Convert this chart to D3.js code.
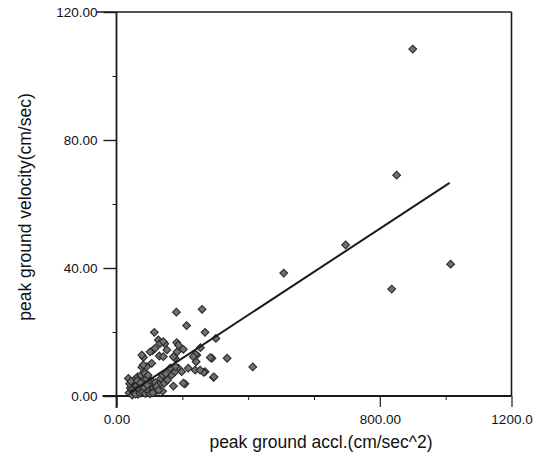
<!DOCTYPE html>
<html><head><meta charset="utf-8">
<script src="https://cdn.jsdelivr.net/npm/d3@7"></script>
<style>body{margin:0;background:#fff}svg{display:block}</style>
</head><body>
<svg id="c" width="544" height="463"></svg>
<script>
// ---- data ----
const xTicks = [0, 800, 1200];
const xTickLabels = ["0.00", "800.00", "1200.0"];
const xMinorTicks = [200, 400, 600, 1000];
const yTicks = [0, 40, 80, 120];
const yTickLabels = ["0.00", "40.00", "80.00", "120.00"];
const yMinorTicks = [20, 60, 100];
const pga = [900,851,1015,508,836,414,696,
 182,260,213,115,269,127,147,153,183,203,302,255,110,130,82,178,244,290,336,77,92,163,188,218,239,269,168,178,295,173,208,123,103,
 184,240,242,179,285,265,296,77,102,117,132,81,107,142,173,198,233,254,188,142,203,
 45,50,52,55,58,60,62,65,66,68,70,72,75,76,78,80,82,85,88,90,92,95,98,100,105,108,112,118,125,130,135,140,145,150,155,38,42,48,56,64,74,86,96,115,120,140,
 36,40,44,47,53,57,61,63,67,71,73,79,84,87,93,97,102,110,122,128];
const pgv = [108.4,69,41.2,38.4,33.4,9.1,47.2,
 26.2,27.1,22.0,19.9,19.9,17.5,16.3,14.4,16.7,14.6,18.0,15.1,14.2,12.5,12.1,11.8,12.8,11.8,11.8,9.0,9.2,8.7,8.7,8.7,8.1,7.6,6.6,7.6,5.8,3.1,3.8,3.8,5.0,
 13.8,13.0,10.7,9.2,12.0,7.4,6.0,12.8,13.8,14.9,16.4,9.7,10.2,12.3,12.3,7.6,12.3,8.1,15.9,17.0,4.0,
 1.5,3,0.8,2.2,4,1.2,2.8,0.5,3.5,1.8,5,2.5,1,3.8,2,4.5,1.5,3,2.2,5.5,1,3.5,2.5,4,1.8,3,2.5,4.2,2,3.5,5.5,6.5,4,7,5,1,2.5,0.3,5.2,6,6.5,7,6.5,1.2,2.8,1.5,
 5.5,3.8,4.6,2.0,1.5,0.6,3.2,4.8,2.4,0.9,4.1,1.2,2.6,0.8,3.4,1.4,0.7,1.0,3.0,1.8];
const fitX = [40, 1012];
const fitY = [1.0, 66.6];

// ---- chart ----
const svg = d3.select("#c");
const x = d3.scaleLinear().domain([0, 1200]).range([116.5, 511.5]);
const y = d3.scaleLinear().domain([0, 120]).range([396, 12]);
const ink = "#1a1a1a";
const font = "'Liberation Sans', Arial, sans-serif";

// frame (top, right)
svg.append("line").attr("x1", x(0)-20).attr("x2", x(1200)).attr("y1", y(120)).attr("y2", y(120)).attr("stroke", ink).attr("stroke-width", 1.6);
svg.append("line").attr("x1", x(1200)).attr("x2", x(1200)).attr("y1", y(120)).attr("y2", y(0)).attr("stroke", ink).attr("stroke-width", 1.6);

// y axis
const yAxis = d3.axisLeft(y).tickValues(yTicks).tickSize(13).tickPadding(6)
  .tickFormat((d, i) => yTickLabels[i]);
const gy = svg.append("g").attr("transform", `translate(${x(0)},0)`).call(yAxis);
gy.select(".domain").attr("d", `M0,${y(120)}V${y(0)+12}`).attr("stroke", ink).attr("stroke-width", 1.8);
gy.selectAll(".tick line").attr("stroke", ink).attr("stroke-width", 1.4);
gy.selectAll(".tick text").attr("font-family", font).attr("font-size", 13.5).attr("fill", "#111");
svg.append("g").attr("transform", `translate(${x(0)},0)`)
  .call(d3.axisLeft(y).tickValues(yMinorTicks).tickSize(4).tickFormat(""))
  .call(g => g.select(".domain").remove())
  .selectAll("line").attr("stroke", ink);

// x axis
const xAxis = d3.axisBottom(x).tickValues(xTicks).tickSize(11).tickPadding(7)
  .tickFormat((d, i) => xTickLabels[i]);
const gx = svg.append("g").attr("transform", `translate(0,${y(0)})`).call(xAxis);
gx.select(".domain").attr("d", `M${x(0)-14},0H${x(1200)}`).attr("stroke", ink).attr("stroke-width", 1.8);
gx.selectAll(".tick line").attr("stroke", ink).attr("stroke-width", 1.2);
gx.selectAll(".tick text").attr("font-family", font).attr("font-size", 13.5).attr("fill", "#111");
svg.append("g").attr("transform", `translate(0,${y(0)})`)
  .call(d3.axisBottom(x).tickValues(xMinorTicks).tickSize(4).tickFormat(""))
  .call(g => g.select(".domain").remove())
  .selectAll("line").attr("stroke", ink);

// titles
svg.append("text").attr("x", 321).attr("y", 448).attr("text-anchor", "middle")
  .attr("font-family", font).attr("font-size", 17.5).attr("fill", "#111")
  .text("peak ground accl.(cm/sec^2)");
svg.append("text").attr("transform", "translate(31,207) rotate(-90)").attr("text-anchor", "middle")
  .attr("font-family", font).attr("font-size", 17.5).attr("fill", "#111")
  .text("peak ground velocity(cm/sec)");

// points (rotated squares)
const pts = pga.map((v, i) => [v, pgv[i]]);
const marker = d3.symbol().type(d3.symbolSquare).size(30);
svg.append("g").selectAll("path").data(pts).join("path")
  .attr("d", marker)
  .attr("transform", d => `translate(${x(d[0])},${y(d[1])}) rotate(45)`)
  .attr("fill", "#707070").attr("stroke", "#2a2a2a").attr("stroke-width", 1.1);

// fit line
const line = d3.line().x(d => x(d[0])).y(d => y(d[1]));
svg.append("path").datum(fitX.map((v, i) => [v, fitY[i]]))
  .attr("d", line).attr("fill", "none").attr("stroke", ink).attr("stroke-width", 2);
</script>
</body></html>
